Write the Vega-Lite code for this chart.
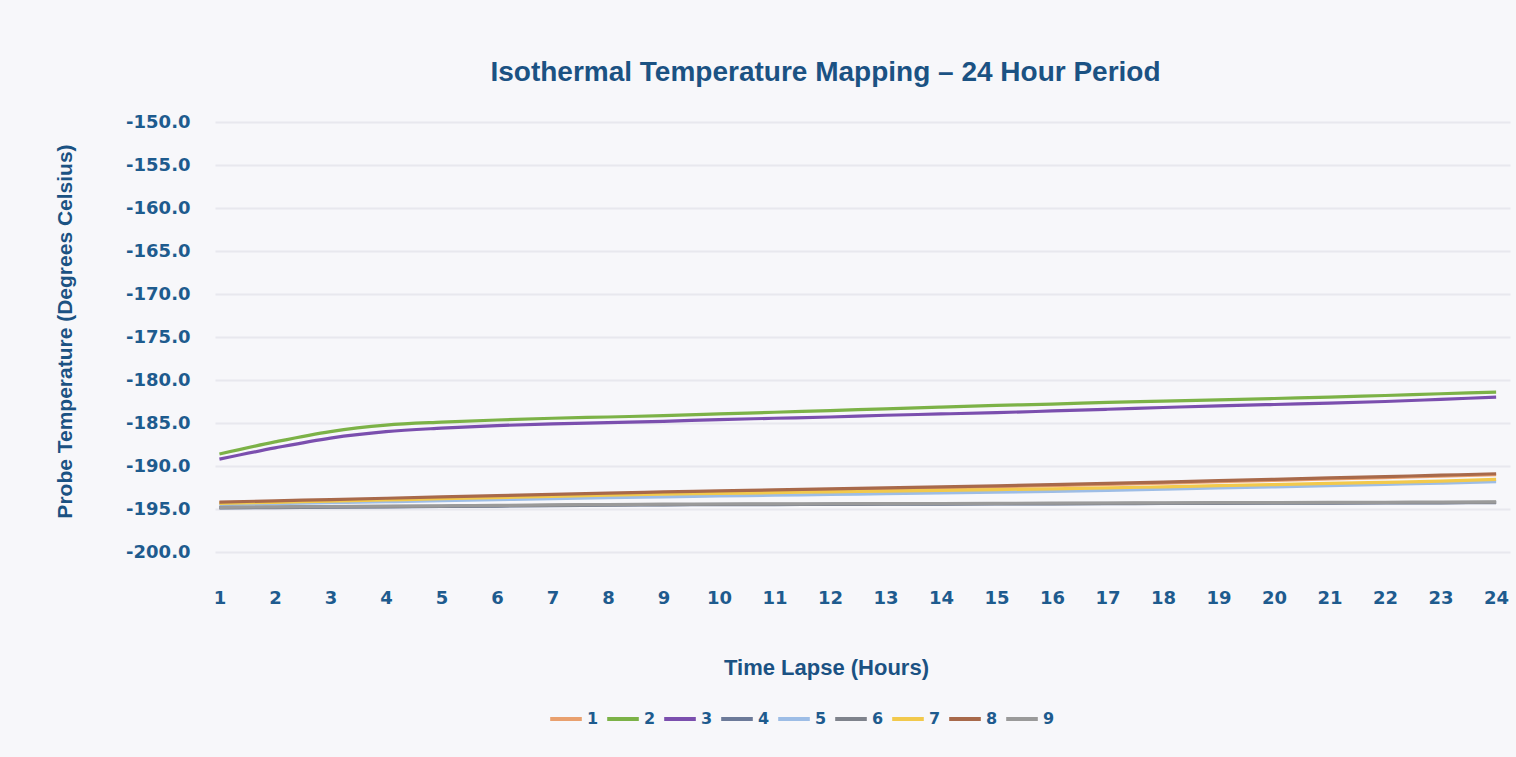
{
  "$schema": "https://vega.github.io/schema/vega-lite/v6.json",
  "autosize": {"type": "none"},
  "width": 1295,
  "height": 430,
  "padding": {"left": 215, "top": 122, "right": 6, "bottom": 205},
  "background": "#f7f7fa",
  "title": {
    "text": "Isothermal Temperature Mapping – 24 Hour Period",
    "font": "Liberation Sans",
    "fontWeight": "bold",
    "fontSize": 28,
    "color": "#1b5283",
    "anchor": "middle",
    "frame": "group",
    "dx": -37,
    "baseline": "alphabetic",
    "offset": 4
  },
  "datasets": {
    "temps": [
      {"h":1,"p":"1","t":-194.25},{"h":2,"p":"1","t":-194.15},{"h":3,"p":"1","t":-194.02},{"h":4,"p":"1","t":-193.88},{"h":5,"p":"1","t":-193.73},{"h":6,"p":"1","t":-193.58},{"h":7,"p":"1","t":-193.43},{"h":8,"p":"1","t":-193.28},{"h":9,"p":"1","t":-193.14},{"h":10,"p":"1","t":-193.02},{"h":11,"p":"1","t":-192.9},{"h":12,"p":"1","t":-192.78},{"h":13,"p":"1","t":-192.66},{"h":14,"p":"1","t":-192.54},{"h":15,"p":"1","t":-192.42},{"h":16,"p":"1","t":-192.29},{"h":17,"p":"1","t":-192.15},{"h":18,"p":"1","t":-191.99},{"h":19,"p":"1","t":-191.83},{"h":20,"p":"1","t":-191.67},{"h":21,"p":"1","t":-191.51},{"h":22,"p":"1","t":-191.35},{"h":23,"p":"1","t":-191.19},{"h":24,"p":"1","t":-191.02},
      {"h":1,"p":"2","t":-188.6},{"h":2,"p":"2","t":-187.2},{"h":3,"p":"2","t":-186.0},{"h":4,"p":"2","t":-185.25},{"h":5,"p":"2","t":-184.9},{"h":6,"p":"2","t":-184.65},{"h":7,"p":"2","t":-184.45},{"h":8,"p":"2","t":-184.3},{"h":9,"p":"2","t":-184.15},{"h":10,"p":"2","t":-183.95},{"h":11,"p":"2","t":-183.75},{"h":12,"p":"2","t":-183.55},{"h":13,"p":"2","t":-183.35},{"h":14,"p":"2","t":-183.15},{"h":15,"p":"2","t":-182.95},{"h":16,"p":"2","t":-182.8},{"h":17,"p":"2","t":-182.6},{"h":18,"p":"2","t":-182.45},{"h":19,"p":"2","t":-182.3},{"h":20,"p":"2","t":-182.15},{"h":21,"p":"2","t":-182.0},{"h":22,"p":"2","t":-181.8},{"h":23,"p":"2","t":-181.6},{"h":24,"p":"2","t":-181.4},
      {"h":1,"p":"3","t":-189.2},{"h":2,"p":"3","t":-187.9},{"h":3,"p":"3","t":-186.75},{"h":4,"p":"3","t":-186.0},{"h":5,"p":"3","t":-185.6},{"h":6,"p":"3","t":-185.3},{"h":7,"p":"3","t":-185.1},{"h":8,"p":"3","t":-184.95},{"h":9,"p":"3","t":-184.8},{"h":10,"p":"3","t":-184.6},{"h":11,"p":"3","t":-184.45},{"h":12,"p":"3","t":-184.3},{"h":13,"p":"3","t":-184.1},{"h":14,"p":"3","t":-183.95},{"h":15,"p":"3","t":-183.8},{"h":16,"p":"3","t":-183.6},{"h":17,"p":"3","t":-183.4},{"h":18,"p":"3","t":-183.2},{"h":19,"p":"3","t":-183.0},{"h":20,"p":"3","t":-182.85},{"h":21,"p":"3","t":-182.7},{"h":22,"p":"3","t":-182.5},{"h":23,"p":"3","t":-182.25},{"h":24,"p":"3","t":-182.0},
      {"h":1,"p":"4","t":-194.88},{"h":2,"p":"4","t":-194.83},{"h":3,"p":"4","t":-194.79},{"h":4,"p":"4","t":-194.75},{"h":5,"p":"4","t":-194.71},{"h":6,"p":"4","t":-194.66},{"h":7,"p":"4","t":-194.61},{"h":8,"p":"4","t":-194.56},{"h":9,"p":"4","t":-194.52},{"h":10,"p":"4","t":-194.5},{"h":11,"p":"4","t":-194.48},{"h":12,"p":"4","t":-194.47},{"h":13,"p":"4","t":-194.45},{"h":14,"p":"4","t":-194.44},{"h":15,"p":"4","t":-194.42},{"h":16,"p":"4","t":-194.4},{"h":17,"p":"4","t":-194.38},{"h":18,"p":"4","t":-194.36},{"h":19,"p":"4","t":-194.34},{"h":20,"p":"4","t":-194.33},{"h":21,"p":"4","t":-194.31},{"h":22,"p":"4","t":-194.3},{"h":23,"p":"4","t":-194.28},{"h":24,"p":"4","t":-194.26},
      {"h":1,"p":"5","t":-194.5},{"h":2,"p":"5","t":-194.38},{"h":3,"p":"5","t":-194.27},{"h":4,"p":"5","t":-194.15},{"h":5,"p":"5","t":-194.03},{"h":6,"p":"5","t":-193.92},{"h":7,"p":"5","t":-193.8},{"h":8,"p":"5","t":-193.68},{"h":9,"p":"5","t":-193.58},{"h":10,"p":"5","t":-193.49},{"h":11,"p":"5","t":-193.4},{"h":12,"p":"5","t":-193.31},{"h":13,"p":"5","t":-193.22},{"h":14,"p":"5","t":-193.13},{"h":15,"p":"5","t":-193.04},{"h":16,"p":"5","t":-192.95},{"h":17,"p":"5","t":-192.84},{"h":18,"p":"5","t":-192.7},{"h":19,"p":"5","t":-192.56},{"h":20,"p":"5","t":-192.42},{"h":21,"p":"5","t":-192.28},{"h":22,"p":"5","t":-192.14},{"h":23,"p":"5","t":-191.99},{"h":24,"p":"5","t":-191.82},
      {"h":1,"p":"6","t":-194.85},{"h":2,"p":"6","t":-194.8},{"h":3,"p":"6","t":-194.76},{"h":4,"p":"6","t":-194.72},{"h":5,"p":"6","t":-194.68},{"h":6,"p":"6","t":-194.63},{"h":7,"p":"6","t":-194.58},{"h":8,"p":"6","t":-194.53},{"h":9,"p":"6","t":-194.49},{"h":10,"p":"6","t":-194.47},{"h":11,"p":"6","t":-194.45},{"h":12,"p":"6","t":-194.44},{"h":13,"p":"6","t":-194.42},{"h":14,"p":"6","t":-194.41},{"h":15,"p":"6","t":-194.39},{"h":16,"p":"6","t":-194.37},{"h":17,"p":"6","t":-194.35},{"h":18,"p":"6","t":-194.33},{"h":19,"p":"6","t":-194.31},{"h":20,"p":"6","t":-194.3},{"h":21,"p":"6","t":-194.28},{"h":22,"p":"6","t":-194.27},{"h":23,"p":"6","t":-194.25},{"h":24,"p":"6","t":-194.23},
      {"h":1,"p":"7","t":-194.35},{"h":2,"p":"7","t":-194.22},{"h":3,"p":"7","t":-194.08},{"h":4,"p":"7","t":-193.95},{"h":5,"p":"7","t":-193.81},{"h":6,"p":"7","t":-193.68},{"h":7,"p":"7","t":-193.54},{"h":8,"p":"7","t":-193.4},{"h":9,"p":"7","t":-193.28},{"h":10,"p":"7","t":-193.19},{"h":11,"p":"7","t":-193.1},{"h":12,"p":"7","t":-193.01},{"h":13,"p":"7","t":-192.92},{"h":14,"p":"7","t":-192.83},{"h":15,"p":"7","t":-192.74},{"h":16,"p":"7","t":-192.65},{"h":17,"p":"7","t":-192.55},{"h":18,"p":"7","t":-192.42},{"h":19,"p":"7","t":-192.29},{"h":20,"p":"7","t":-192.16},{"h":21,"p":"7","t":-192.03},{"h":22,"p":"7","t":-191.9},{"h":23,"p":"7","t":-191.75},{"h":24,"p":"7","t":-191.55},
      {"h":1,"p":"8","t":-194.2},{"h":2,"p":"8","t":-194.05},{"h":3,"p":"8","t":-193.9},{"h":4,"p":"8","t":-193.75},{"h":5,"p":"8","t":-193.6},{"h":6,"p":"8","t":-193.45},{"h":7,"p":"8","t":-193.3},{"h":8,"p":"8","t":-193.15},{"h":9,"p":"8","t":-193.02},{"h":10,"p":"8","t":-192.9},{"h":11,"p":"8","t":-192.78},{"h":12,"p":"8","t":-192.66},{"h":13,"p":"8","t":-192.54},{"h":14,"p":"8","t":-192.42},{"h":15,"p":"8","t":-192.3},{"h":16,"p":"8","t":-192.17},{"h":17,"p":"8","t":-192.03},{"h":18,"p":"8","t":-191.87},{"h":19,"p":"8","t":-191.71},{"h":20,"p":"8","t":-191.55},{"h":21,"p":"8","t":-191.39},{"h":22,"p":"8","t":-191.23},{"h":23,"p":"8","t":-191.07},{"h":24,"p":"8","t":-190.9},
      {"h":1,"p":"9","t":-194.8},{"h":2,"p":"9","t":-194.75},{"h":3,"p":"9","t":-194.71},{"h":4,"p":"9","t":-194.67},{"h":5,"p":"9","t":-194.63},{"h":6,"p":"9","t":-194.58},{"h":7,"p":"9","t":-194.53},{"h":8,"p":"9","t":-194.48},{"h":9,"p":"9","t":-194.44},{"h":10,"p":"9","t":-194.42},{"h":11,"p":"9","t":-194.4},{"h":12,"p":"9","t":-194.39},{"h":13,"p":"9","t":-194.37},{"h":14,"p":"9","t":-194.36},{"h":15,"p":"9","t":-194.34},{"h":16,"p":"9","t":-194.32},{"h":17,"p":"9","t":-194.3},{"h":18,"p":"9","t":-194.28},{"h":19,"p":"9","t":-194.26},{"h":20,"p":"9","t":-194.25},{"h":21,"p":"9","t":-194.23},{"h":22,"p":"9","t":-194.22},{"h":23,"p":"9","t":-194.2},{"h":24,"p":"9","t":-194.18}
    ]
  },
  "data": {"name": "temps"},
  "mark": {"type": "line", "interpolate": "monotone", "strokeWidth": 3.2},
  "encoding": {
    "x": {
      "field": "h",
      "type": "quantitative",
      "scale": {"domain": [0.92, 24.25], "nice": false, "zero": false},
      "axis": {
        "values": [1,2,3,4,5,6,7,8,9,10,11,12,13,14,15,16,17,18,19,20,21,22,23,24],
        "format": "d",
        "grid": false,
        "domain": false,
        "ticks": false,
        "labelPadding": 37,
        "labelFont": "DejaVu Sans",
        "labelFontWeight": "bold",
        "labelFontSize": 18,
        "labelColor": "#1e5b8e",
        "labelFlush": false,
        "labelOverlap": false,
        "title": "Time Lapse (Hours)",
        "titleFont": "Liberation Sans",
        "titleFontWeight": "bold",
        "titleFontSize": 22,
        "titleColor": "#1b5283",
        "titleX": 611,
        "titleY": 105,
        "titleBaseline": "top",
        "titleAlign": "center"
      }
    },
    "y": {
      "field": "t",
      "type": "quantitative",
      "scale": {"domain": [-200, -150], "nice": false, "zero": false},
      "axis": {
        "values": [-200,-195,-190,-185,-180,-175,-170,-165,-160,-155,-150],
        "labelExpr": "replace(format(datum.value, '.1f'), '\u2212', '-')",
        "grid": true,
        "gridColor": "#e8e8ee",
        "gridWidth": 2,
        "domain": false,
        "ticks": false,
        "labelPadding": 25,
        "labelFont": "DejaVu Sans",
        "labelFontWeight": "bold",
        "labelFontSize": 18,
        "labelColor": "#1e5b8e",
        "labelFlush": false,
        "title": "Probe Temperature (Degrees Celsius)",
        "titleFont": "Liberation Sans",
        "titleFontWeight": "bold",
        "titleFontSize": 21,
        "titleColor": "#1b5283",
        "titleAngle": -90,
        "titleX": -150,
        "titleY": 209,
        "titleBaseline": "middle",
        "titleAlign": "center"
      }
    },
    "color": {
      "field": "p",
      "type": "nominal",
      "scale": {
        "domain": ["1","2","3","4","5","6","7","8","9"],
        "range": ["#e9a06e","#7cb247","#7b4fae","#6c7a99","#9dbde6","#7f838c","#f2c94c","#a8694a","#9a9a9a"]
      },
      "legend": {
        "orient": "none",
        "legendX": 333,
        "legendY": 579,
        "direction": "horizontal",
        "title": null,
        "symbolType": "stroke",
        "symbolSize": 1000,
        "symbolStrokeWidth": 4,
        "labelFont": "DejaVu Sans",
        "labelFontWeight": "bold",
        "labelFontSize": 16,
        "labelColor": "#1e5b8e",
        "labelOffset": 3,
        "columnPadding": 0,
        "padding": 0
      }
    }
  },
  "config": {
    "view": {"stroke": null}
  }
}
